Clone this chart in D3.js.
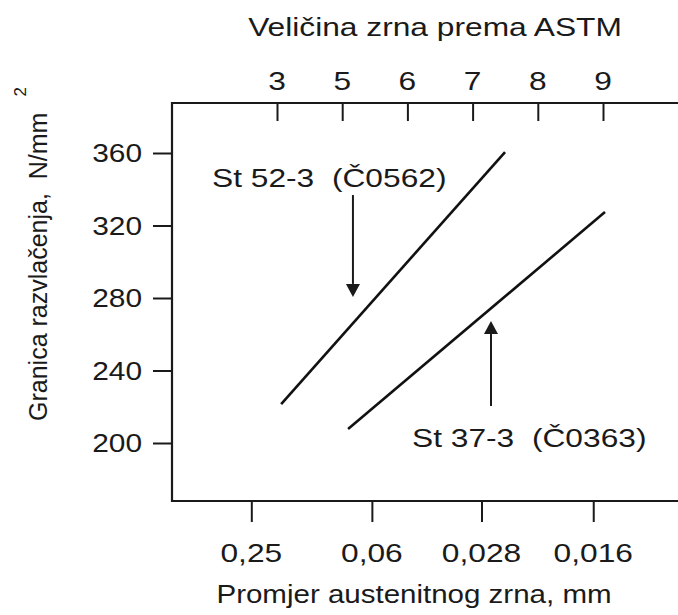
<!DOCTYPE html>
<html>
<head>
<meta charset="utf-8">
<script src="https://cdn.jsdelivr.net/npm/d3@7"></script>
<style>
  html, body { margin: 0; padding: 0; background: #fff; }
  svg { display: block; }
  text { font-family: "Liberation Sans", Arial, Helvetica, sans-serif; fill: #1a1a1a; white-space: pre; }
</style>
</head>
<body>
<svg id="chart" width="678" height="615"></svg>
<script>
// ---- data ----
const bottomTickValues = [0.25, 0.06, 0.028, 0.016];          // grain diameter, mm
const bottomTickLabels = ["0,25", "0,06", "0,028", "0,016"];
const topTickValues = [3, 5, 6, 7, 8, 9];                       // ASTM grain size
const yTickValues = [200, 240, 280, 320, 360];                  // N/mm²

const seriesNames = ["St 52-3  (Č0562)", "St 37-3  (Č0363)"];
const st52Diam = [0.158, 0.02455];
const st52Yield = [221.5, 360.5];
const st37Diam = [0.0742, 0.01521];
const st37Yield = [207.7, 327.4];

// annotation anchors (data coordinates)
const labelDiam = [0.573, 0.04385];
const labelYield = [341.2, 197.8];
const arrowDiam = [0.0709, 0.02653];
const arrowFrom = [336.8, 220.4];
const arrowTo = [280.6, 267.3];

const titleTop = "Veličina zrna prema ASTM";
const titleBottom = "Promjer austenitnog zrna, mm";
const titleLeft = "Granica razvlačenja,  N/mm";

// ---- layout ----
const W = 678, H = 615;
const frame = { left: 172, top: 103, bottom: 501, right: 678 };
const SX = 1.22;          // horizontal text stretch
const FS = 26;
const ink = "#1a1a1a";

const svg = d3.select("#chart");
svg.append("rect").attr("width", W).attr("height", H).attr("fill", "#fff");

// Hall-Petch abscissa: d^-1/2
const k = d => 1 / Math.sqrt(d);
const x = d3.scaleLinear().domain([2, 8]).range([251.3, 598.7]);
const xd = d => x(k(d));
const y = d3.scaleLinear().domain([200, 360]).range([443, 153]);
const xTop = d3.scalePoint().domain(topTickValues).range([277, 603]).padding(0);

function stext(g, str, px, py, anchor, sx, size) {
  return g.append("text")
    .attr("transform", `translate(${px},${py}) scale(${sx || SX},1)`)
    .attr("text-anchor", anchor)
    .attr("font-size", size || FS)
    .text(str);
}

// ---- axes (tick marks) ----
const axStyle = g => {
  g.select(".domain").remove();
  g.selectAll(".tick line").attr("stroke", ink).attr("stroke-width", 2);
  g.selectAll(".tick text").remove();
};

svg.append("g")
  .attr("transform", `translate(${frame.left},0)`)
  .call(d3.axisLeft(y).tickValues(yTickValues).tickSize(19).tickFormat(""))
  .call(axStyle);

svg.append("g")
  .attr("transform", `translate(0,${frame.bottom})`)
  .call(d3.axisBottom(x).tickValues(bottomTickValues.map(k)).tickSize(21).tickFormat(""))
  .call(axStyle);

svg.append("g")
  .attr("transform", `translate(0,${frame.top})`)
  .call(d3.axisTop(xTop).tickSize(-18).tickFormat(""))
  .call(axStyle);

// ---- frame ----
const fr = svg.append("g").attr("stroke", ink).attr("stroke-width", 2.2).attr("fill", "none");
fr.append("path").attr("d", `M${frame.right},${frame.top}H${frame.left}V${frame.bottom}H${frame.right}`);

// ---- tick labels ----
const lab = svg.append("g");
yTickValues.forEach(v => stext(lab, String(v), 142, y(v) + 9, "end", 1.15));
bottomTickValues.forEach((v, i) => stext(lab, bottomTickLabels[i], xd(v), 562, "middle"));
topTickValues.forEach(v => stext(lab, String(v), xTop(v), 90, "middle"));

// ---- titles ----
stext(svg, titleTop, 435, 36, "middle");
stext(svg, titleBottom, 414, 603, "middle", 1.135);
const yt = svg.append("text")
  .attr("transform", "translate(47,421) rotate(-90)")
  .attr("text-anchor", "start")
  .attr("font-size", 25);
yt.append("tspan").text(titleLeft);
yt.append("tspan").attr("dx", 16).attr("dy", -21).attr("font-size", 17).text("2");

// ---- lines ----
const line = d3.line().x(d => xd(d[0])).y(d => y(d[1]));
const series = [
  d3.zip(st52Diam, st52Yield),
  d3.zip(st37Diam, st37Yield)
];
svg.append("g").selectAll("path").data(series).join("path")
  .attr("d", line)
  .attr("fill", "none")
  .attr("stroke", "#111")
  .attr("stroke-width", 2.6);

// ---- annotations ----
const ann = svg.append("g");
seriesNames.forEach((name, i) => {
  stext(ann, name, xd(labelDiam[i]), y(labelYield[i]), "start");
  const ax = xd(arrowDiam[i]);
  const y0 = y(arrowFrom[i]), y1 = y(arrowTo[i]);
  const dir = y1 > y0 ? 1 : -1;
  const headLen = 13, headHalf = 7;
  ann.append("line")
    .attr("x1", ax).attr("x2", ax)
    .attr("y1", y0).attr("y2", y1 - dir * headLen)
    .attr("stroke", ink).attr("stroke-width", 2);
  ann.append("path")
    .attr("d", `M${ax},${y1}L${ax - headHalf},${y1 - dir * headLen}L${ax + headHalf},${y1 - dir * headLen}Z`)
    .attr("fill", ink);
});
</script>
</body>
</html>
